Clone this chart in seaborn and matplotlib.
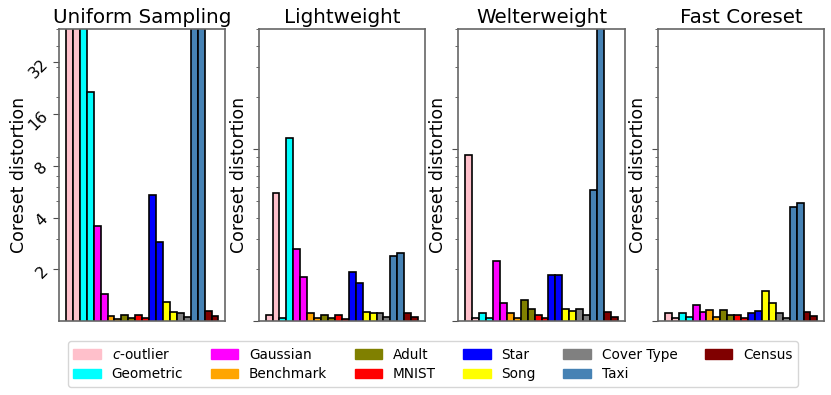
import matplotlib
matplotlib.use("Agg")
import matplotlib.pyplot as plt
import matplotlib.patches as mpatches
from matplotlib.ticker import NullFormatter
import seaborn as sns
import pandas as pd

datasets = ["$c$-outlier", "Geometric", "Gaussian", "Benchmark", "Adult", "MNIST",
            "Star", "Song", "Cover Type", "Taxi", "Census"]
colors = ["pink", "cyan", "magenta", "orange", "olive", "red",
          "blue", "yellow", "gray", "steelblue", "maroon"]
methods = ["Uniform Sampling", "Lightweight", "Welterweight", "Fast Coreset"]

# two bars per dataset (first, second setting)
uniform_vals = [60, 60, 60, 21.5, 3.56, 1.43, 1.07, 1.03, 1.08, 1.04, 1.09, 1.04,
                5.41, 2.88, 1.29, 1.13, 1.12, 1.05, 60, 60, 1.14, 1.07]
lightweight_vals = [1.08, 5.55, 1.045, 11.6, 2.63, 1.81, 1.11, 1.045, 1.09, 1.04, 1.08, 1.03,
                    1.93, 1.67, 1.13, 1.12, 1.11, 1.05, 2.38, 2.49, 1.12, 1.06]
welterweight_vals = [9.3, 1.04, 1.11, 1.04, 2.25, 1.28, 1.11, 1.04, 1.32, 1.17, 1.09, 1.04,
                     1.85, 1.86, 1.17, 1.15, 1.17, 1.08, 5.78, 60, 1.13, 1.06]
fast_vals = [1.12, 1.045, 1.11, 1.05, 1.24, 1.13, 1.16, 1.06, 1.16, 1.08, 1.08, 1.04,
             1.12, 1.14, 1.50, 1.28, 1.11, 1.04, 4.59, 4.86, 1.13, 1.07]
all_vals = [uniform_vals, lightweight_vals, welterweight_vals, fast_vals]

first_ticks = [2, 4, 8, 16, 32]

rows = []
for m, vals in zip(methods, all_vals):
    for i, v in enumerate(vals):
        d = datasets[i // 2]
        rows.append({"method": m, "dataset": d, "bar": f"{d}_{i % 2}", "value": v})
df = pd.DataFrame(rows)
bar_order = [f"{d}_{k}" for d in datasets for k in range(2)]
palette = dict(zip(datasets, colors))

sns.set_style("ticks")
plt.rcParams["font.family"] = ["DejaVu Sans"]
plt.rcParams["axes.edgecolor"] = "0.4"
plt.rcParams["axes.linewidth"] = 1.2
plt.rcParams["text.color"] = "black"
plt.rcParams["axes.labelcolor"] = "black"
plt.rcParams["xtick.color"] = "black"
plt.rcParams["ytick.color"] = "black"

fig, axes = plt.subplots(1, 4, figsize=(8.31, 3.95), dpi=100)
fig.subplots_adjust(left=0.071, right=0.992, top=0.927, bottom=0.187, wspace=0.2)

for ax, m in zip(axes, methods):
    sub = df[df["method"] == m]
    sns.barplot(data=sub, x="bar", y="value", hue="dataset", order=bar_order,
                hue_order=datasets, palette=palette, dodge=False, width=1.0,
                saturation=1, edgecolor="black", linewidth=1.2, legend=False, ax=ax)
    ax.set_yscale("log")
    ax.set_ylim(1, 50)
    ax.set_xlim(-1.5, len(bar_order) + 0.5)
    ax.set_xticks([])
    ax.set_xlabel("")
    ax.set_title(m, fontsize=14.3, pad=4)
    ax.yaxis.set_minor_formatter(NullFormatter())
    ax.tick_params(axis="y", which="major", length=4, color="0.3")
    ax.tick_params(axis="y", which="minor", length=2.5, color="0.3")
    for s in ax.spines.values():
        s.set_visible(True)
        s.set_color("0.4")

axes[0].set_yticks(first_ticks)
axes[0].set_yticklabels([str(t) for t in first_ticks], rotation=45, fontsize=11.5)
axes[0].yaxis.set_minor_formatter(NullFormatter())
axes[0].tick_params(axis="y", which="major", pad=2)
axes[0].set_ylabel("Coreset distortion", fontsize=12.5, labelpad=-2)
for ax in axes[1:]:
    ax.tick_params(axis="y", which="both", labelleft=False)
    ax.set_ylabel("Coreset distortion", fontsize=12.5, labelpad=4)

handles = [mpatches.Patch(color=c, label=d) for d, c in zip(datasets, colors)]
fig.legend(handles=handles, loc="lower center", bbox_to_anchor=(0.521, 0.004),
           ncol=6, fontsize=9.85, frameon=True, handlelength=2.0, borderpad=0.4,
           labelspacing=0.4)

fig.savefig("out.png", dpi=100)
